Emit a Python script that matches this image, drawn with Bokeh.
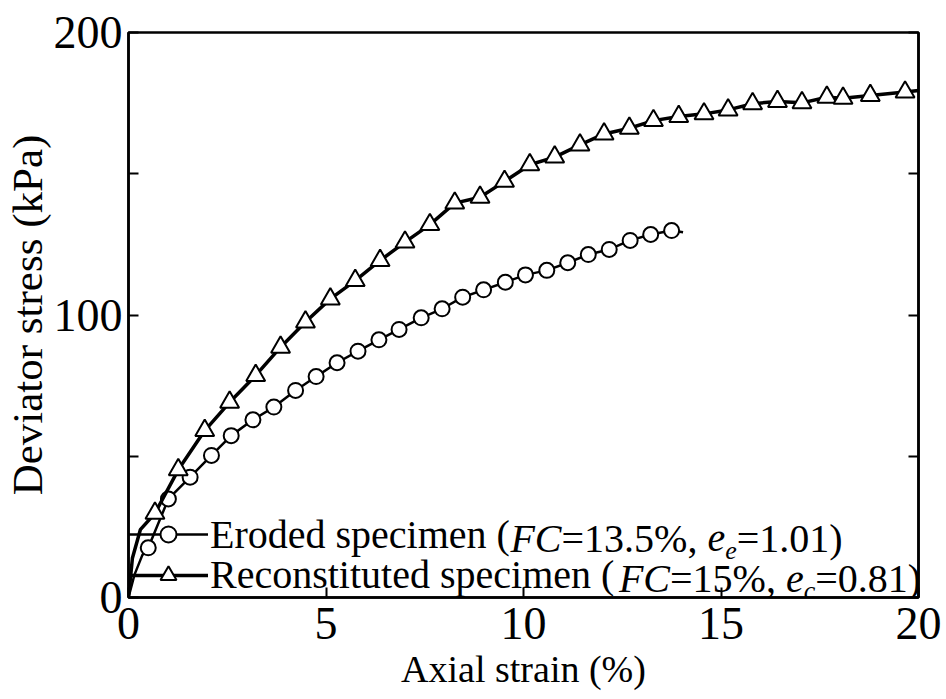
from bokeh.plotting import figure
from bokeh.models import LinearAxis, FixedTicker, Range1d, Legend, LegendItem, Label
from bokeh.embed import file_html
from bokeh.resources import INLINE

FONT = "'Liberation Serif', 'Times New Roman', Times, serif"

# ---- data ----
eroded_x = [0.50, 1.01, 1.56, 2.10, 2.60, 3.15, 3.68, 4.23, 4.75, 5.28, 5.81, 6.34, 6.85,
            7.41, 7.94, 8.46, 8.99, 9.54, 10.05, 10.59, 11.12, 11.64, 12.17, 12.70, 13.22, 13.75]
eroded_y = [17.6, 34.9, 42.6, 50.3, 57.3, 62.9, 67.4, 73.3, 78.2, 83.1, 87.2, 91.2, 94.9,
            99.0, 102.2, 106.3, 108.9, 111.6, 114.2, 115.8, 118.5, 121.4, 123.2, 126.4, 128.5, 129.9]
eroded_start_x = [0.0, 0.15, 0.35]
eroded_start_y = [0.0, 8.0, 15.0]
eroded_end_x = [14.04]
eroded_end_y = [129.3]

recon_x = [0.67, 1.26, 1.93, 2.56, 3.22, 3.85, 4.48, 5.11, 5.74, 6.37, 7.00, 7.63, 8.26, 8.90,
           9.52, 10.16, 10.79, 11.43, 12.04, 12.68, 13.29, 13.93, 14.57, 15.18, 15.80, 16.43,
           17.05, 17.68, 18.09, 18.78, 19.66]
recon_y = [29.8, 45.2, 59.1, 69.1, 78.6, 88.6, 97.5, 105.7, 112.2, 119.3, 125.8, 132.0, 139.6,
           141.7, 147.3, 153.2, 155.9, 160.2, 164.1, 166.1, 168.8, 170.3, 171.2, 172.6, 174.8,
           175.6, 175.1, 177.1, 176.7, 177.7, 178.9]
recon_start_x = [0.0, 0.1, 0.3]
recon_start_y = [0.0, 14.0, 24.0]
recon_end_x = [20.0]
recon_end_y = [179.5]

x_ticks = [0, 5, 10, 15, 20]
y_ticks = [0, 100, 200]
y_minor_ticks = [50, 150]
right_ticks = [0, 50, 100, 150, 200]

# ---- figure ----
p = figure(width=946, height=699, x_range=Range1d(0, 20), y_range=Range1d(0, 200),
           output_backend="svg", toolbar_location=None,
           min_border_left=125, min_border_right=28, min_border_top=32, min_border_bottom=102)
p.grid.visible = False
p.outline_line_color = "black"
p.outline_line_width = 2.5
p.outline_line_alpha = 1.0
p.background_fill_color = "white"
p.border_fill_color = "white"

xa = p.xaxis[0]
xa.ticker = FixedTicker(ticks=x_ticks, minor_ticks=[])
ya = p.yaxis[0]
ya.ticker = FixedTicker(ticks=y_ticks, minor_ticks=y_minor_ticks)

for ax in (xa, ya):
    ax.axis_line_width = 2.5
    ax.axis_line_color = "black"
    ax.major_tick_in = 10
    ax.major_tick_out = 0
    ax.minor_tick_in = 10
    ax.minor_tick_out = 0
    ax.major_tick_line_width = 2
    ax.minor_tick_line_width = 2
    ax.major_tick_line_color = "black"
    ax.minor_tick_line_color = "black"
    ax.major_label_text_font = FONT
    ax.major_label_text_font_size = "46px"
    ax.major_label_text_color = "black"
    ax.axis_label_text_font = FONT
    ax.axis_label_text_font_style = "normal"
    ax.axis_label_text_color = "black"

xa.axis_label = "Axial strain (%)"
xa.axis_label_text_font_size = "38px"
xa.major_label_standoff = 10
xa.axis_label_standoff = 6
ya.axis_label = "Deviator stress (kPa)"
ya.axis_label_text_font_size = "43px"
ya.major_label_standoff = 6
ya.axis_label_standoff = 0

# right axis: ticks only (minor ticks carry no labels)
ra = LinearAxis(ticker=FixedTicker(ticks=[], minor_ticks=right_ticks),
                axis_line_width=2.5, major_tick_in=0, major_tick_out=0,
                minor_tick_in=10, minor_tick_out=0, minor_tick_line_width=2,
                major_label_standoff=0)
p.add_layout(ra, "right")

# ---- curves ----
el = p.line(eroded_start_x + eroded_x + eroded_end_x, eroded_start_y + eroded_y + eroded_end_y,
            line_color="black", line_width=2.5)
es = p.scatter(eroded_x, eroded_y, marker="circle", size=15, fill_color="white",
               line_color="black", line_width=2)
rl = p.line(recon_start_x + recon_x + recon_end_x, recon_start_y + recon_y + recon_end_y,
            line_color="black", line_width=3.5)
rs = p.scatter(recon_x, recon_y, marker="triangle", size=19, fill_color="white",
               line_color="black", line_width=2)

# ---- legend ----
W = {" ": .25, "(": .333, ")": .333, "%": .833, ",": .25, ".": .25, "=": .564,
     "E": .611, "R": .667, "F": .611, "C": .667, "a": .444, "c": .444, "d": .5, "e": .444,
     "i": .278, "m": .778, "n": .5, "o": .5, "p": .5, "r": .333, "s": .389, "t": .278, "u": .5}


def tw(s, size):
    return sum(W.get(ch, 0.5) for ch in s) * size


FS = 40
SUB = 26
GLYPH_W = 80
STANDOFF = 2
ROW_H = 40


def legend_row(first, parts, rends, center):
    leg = Legend(items=[LegendItem(label=first, renderers=rends)],
                 location=(0, center - ROW_H / 2), orientation="vertical",
                 glyph_width=GLYPH_W, glyph_height=ROW_H, label_height=ROW_H,
                 label_standoff=STANDOFF, padding=0, margin=0, spacing=0,
                 border_line_color=None, background_fill_alpha=0,
                 label_text_font=FONT, label_text_font_size=f"{FS}px",
                 label_text_color="black")
    p.add_layout(leg)
    x = GLYPH_W + STANDOFF + tw(first, FS)
    for text, style, kind, gap in parts:
        x += gap
        if kind == "sub":
            lab = Label(x=0, y=0, x_offset=x, y_offset=center - 12, text=text,
                        text_font=FONT, text_font_size=f"{SUB}px", text_font_style=style,
                        text_baseline="middle", text_align="left", text_color="black")
            x += tw(text, SUB)
        else:
            lab = Label(x=0, y=0, x_offset=x, y_offset=center, text=text,
                        text_font=FONT, text_font_size=f"{FS}px", text_font_style=style,
                        text_baseline="middle", text_align="left", text_color="black")
            x += tw(text, FS)
        p.add_layout(lab)


legend_row("Eroded specimen (",
           [("FC", "italic", "main", 0), ("=13.5%, ", "normal", "main", 0),
            ("e", "italic", "main", 0), ("e", "italic", "sub", 0),
            ("=1.01)", "normal", "main", 0)],
           [el, es], 59.5)
legend_row("Reconstituted specimen (",
           [("FC", "italic", "main", 4), ("=15%, ", "normal", "main", 0),
            ("e", "italic", "main", 0), ("c", "italic", "sub", 0),
            ("=0.81)", "normal", "main", 0)],
           [rl, rs], 19)

open("out.html", "w").write(file_html(p, INLINE))
